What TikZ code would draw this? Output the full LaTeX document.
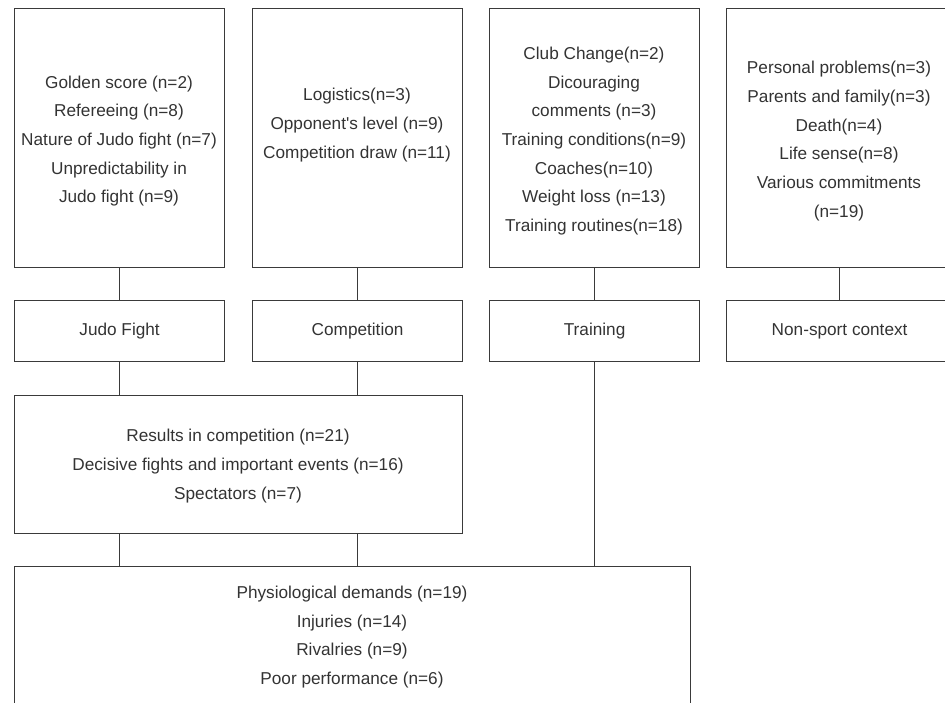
\documentclass[tikz,border=0pt]{standalone}
\usepackage{fontspec}
\newfontfamily\plainfont{Liberation Sans}
\definecolor{linecol}{HTML}{3A3A3A}
\definecolor{textcol}{HTML}{333333}
\begin{document}
\begin{tikzpicture}[x=1pt,y=-1pt,
  box/.style={draw=linecol,line width=1.2pt,rectangle,inner sep=0pt,anchor=north west},
  txt/.style={text=textcol,align=center,inner sep=0pt,font=\plainfont\fontsize{17.2}{28.7}\selectfont},
  conn/.style={draw=linecol,line width=1.2pt}]
\useasboundingbox (0,0) rectangle (945,702);
\clip (0,0) rectangle (945,702);
% top boxes
\node[box,minimum width=210pt,minimum height=259pt] (b1) at (14,8) {};
\node[box,minimum width=210pt,minimum height=259pt] (b2) at (252,8) {};
\node[box,minimum width=210pt,minimum height=259pt] (b3) at (489,8) {};
\node[box,minimum width=226pt,minimum height=259pt] (b4) at (726,8) {};
\node[txt] (t1) at (119,141) {Golden score (n=2)\\Refereeing (n=8)\\Nature of Judo fight (n=7)\\Unpredictability in\\Judo fight (n=9)};
\node[txt] (t2) at (357,125) {Logistics(n=3)\\Opponent's level (n=9)\\Competition draw (n=11)};
\node[txt] (t3) at (594,141) {Club Change(n=2)\\Dicouraging\\comments (n=3)\\Training conditions(n=9)\\Coaches(n=10)\\Weight loss (n=13)\\Training routines(n=18)};
\node[txt] (t4) at (839,141) {Personal problems(n=3)\\Parents and family(n=3)\\Death(n=4)\\Life sense(n=8)\\Various commitments\\(n=19)};
% middle row
\node[box,minimum width=210pt,minimum height=61pt] (jf) at (14,300) {};
\node[box,minimum width=210pt,minimum height=61pt] (cp) at (252,300) {};
\node[box,minimum width=210pt,minimum height=61pt] (tr) at (489,300) {};
\node[box,minimum width=226pt,minimum height=61pt] (ns) at (726,300) {};
\node[txt] (ljf) at (jf.center) {Judo Fight};
\node[txt] (lcp) at (cp.center) {Competition};
\node[txt] (ltr) at (tr.center) {Training};
\node[txt] (lns) at (ns.center) {Non-sport context};
% results box
\node[box,minimum width=448pt,minimum height=138pt] (res) at (14,395) {};
\node[txt] (tres) at (238,466) {Results in competition (n=21)\\Decisive fights and important events (n=16)\\Spectators (n=7)};
% bottom box
\node[box,minimum width=676pt,minimum height=140pt] (bot) at (14,566) {};
\node[txt] (tbot) at (352,637) {Physiological demands (n=19)\\Injuries (n=14)\\Rivalries (n=9)\\Poor performance (n=6)};
% connectors
\draw[conn] (b1.south) -- (jf.north);
\draw[conn] (b2.south) -- (cp.north);
\draw[conn] (b3.south) -- (tr.north);
\draw[conn] (b4.south) -- (ns.north);
\draw[conn] (jf.south) -- (res.north -| jf.south);
\draw[conn] (cp.south) -- (res.north -| cp.south);
\draw[conn] (res.south -| jf.south) -- (bot.north -| jf.south);
\draw[conn] (res.south -| cp.south) -- (bot.north -| cp.south);
\draw[conn] (tr.south) -- (bot.north -| tr.south);
\end{tikzpicture}
\end{document}
